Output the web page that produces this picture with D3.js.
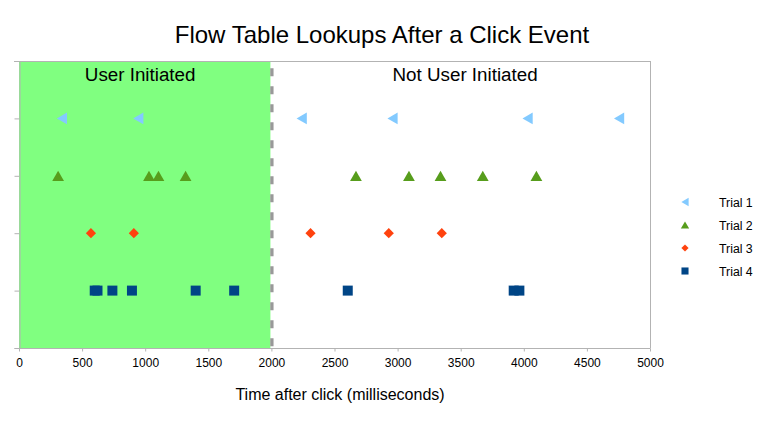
<!DOCTYPE html>
<html>
<head>
<meta charset="utf-8">
<script src="https://cdn.jsdelivr.net/npm/d3@7"></script>
<style>
  html, body { margin: 0; padding: 0; background: #fff; }
  svg { display: block; font-family: "Liberation Sans", Arial, sans-serif; }
</style>
</head>
<body>
<svg id="chart" width="763" height="423"></svg>
<script>
// ---- data ----
const title = "Flow Table Lookups After a Click Event";
const xAxisTitle = "Time after click (milliseconds)";
const xTicks = [0, 500, 1000, 1500, 2000, 2500, 3000, 3500, 4000, 4500, 5000];
const yTicks = [0, 1, 2, 3, 4, 5];
const seriesNames = ["Trial 1", "Trial 2", "Trial 3", "Trial 4"];
const seriesLevels = [4, 3, 2, 1];
const trial1 = [340, 945, 2240, 2960, 4030, 4755];
const trial2 = [310, 1030, 1105, 1320, 2670, 3090, 3340, 3675, 4100];
const trial3 = [570, 910, 2310, 2930, 3350];
const trial4 = [600, 622, 740, 895, 1400, 1705, 2605, 3920, 3965];
const regionSplit = 2000;
const regionLabels = ["User Initiated", "Not User Initiated"];
const regionLabelX = [960, 3535];

const seriesData = [trial1, trial2, trial3, trial4];
const colors = ["#83caff", "#579d1c", "#ff420e", "#004586"];

const svg = d3.select("#chart");
const m = { left: 19, right: 113, top: 61, bottom: 75 };
const W = 763, H = 423;
const x = d3.scaleLinear().domain([0, 5000]).range([m.left, W - m.right]);
const y = d3.scaleLinear().domain([0, 5]).range([H - m.bottom, m.top]);

// shaded region
svg.append("rect")
  .attr("x", x(0)).attr("y", y(5))
  .attr("width", x(regionSplit) - x(0) - 1)
  .attr("height", y(0) - y(5))
  .attr("fill", "#80ff80");

// frame (right)
const frameColor = "#b3b3b3";
svg.append("line").attr("x1", x(5000) + 0.5).attr("x2", x(5000) + 0.5)
  .attr("y1", y(5)).attr("y2", y(0)).attr("stroke", frameColor);

// y axis
const yAxis = d3.axisLeft(y).tickValues(yTicks).tickSize(5).tickFormat("");
const yg = svg.append("g").attr("transform", `translate(${x(0) + 0.5},0)`).call(yAxis);
yg.select(".domain").attr("stroke", frameColor);
yg.selectAll(".tick line").attr("stroke", frameColor);
// top border
svg.append("line").attr("x1", x(0) - 5).attr("x2", x(5000) + 0.5)
  .attr("y1", y(5) + 0.5).attr("y2", y(5) + 0.5).attr("stroke", frameColor);

// dashed divider
svg.append("line")
  .attr("x1", x(regionSplit) + 0.5).attr("x2", x(regionSplit) + 0.5)
  .attr("y1", y(5)).attr("y2", y(0))
  .attr("stroke", "#999999").attr("stroke-width", 3.3)
  .attr("stroke-dasharray", "8,10").attr("stroke-dashoffset", 10.7);

// x axis
const xAxis = d3.axisBottom(x).tickValues(xTicks).tickSize(3).tickPadding(7).tickFormat(d3.format("d"));
const xg = svg.append("g").attr("transform", `translate(0,${y(0) + 0.5})`).call(xAxis);
xg.select(".domain").attr("stroke", frameColor).attr("d", `M${x(0)},0H${x(5000) + 0.5}`);
xg.selectAll(".tick line").attr("stroke", frameColor);
xg.selectAll(".tick text").attr("font-size", 12).attr("fill", "#000")
  .attr("font-family", "Liberation Sans, Arial, sans-serif");

// title
svg.append("text").attr("x", 382).attr("y", 43).attr("text-anchor", "middle")
  .attr("font-size", 24).attr("fill", "#000").text(title);
// x axis title
svg.append("text").attr("x", 340).attr("y", 400).attr("text-anchor", "middle")
  .attr("font-size", 16).attr("fill", "#000").text(xAxisTitle);

// region labels
regionLabels.forEach((t, i) => {
  svg.append("text").attr("x", x(regionLabelX[i])).attr("y", 81)
    .attr("text-anchor", "middle").attr("font-size", 18.8).attr("fill", "#000").text(t);
});

// markers
const triSize = 60;
const triShift = Math.sqrt(triSize / (3 * Math.sqrt(3))) / 2; // centre bbox instead of centroid
function markerPath(i, scale) {
  if (i === 0 || i === 1) return d3.symbol().type(d3.symbolTriangle).size(triSize * scale)();
  if (i === 2) return d3.symbol().type(d3.symbolSquare).size(52 * scale)();
  return d3.symbol().type(d3.symbolSquare).size(100 * scale)();
}
function markerXform(i, scale) {
  if (i === 0) return `rotate(-90) translate(0,${triShift * Math.sqrt(scale)})`;
  if (i === 1) return `translate(0,${triShift * Math.sqrt(scale)})`;
  if (i === 2) return "rotate(45)";
  return "";
}
seriesData.forEach((vals, i) => {
  svg.append("g").selectAll("path").data(vals).join("path")
    .attr("d", markerPath(i, 1))
    .attr("transform", d => `translate(${x(d)},${y(seriesLevels[i])}) ${markerXform(i, 1)}`)
    .attr("fill", colors[i]);
});

// legend
const legY = [202, 225, 248, 271];
seriesNames.forEach((n, i) => {
  svg.append("path").attr("d", markerPath(i, 0.5))
    .attr("transform", `translate(685,${legY[i]}) ${markerXform(i, 0.5)}`)
    .attr("fill", colors[i]);
  svg.append("text").attr("x", 719).attr("y", legY[i] + 4.5)
    .attr("font-size", 12.3).attr("fill", "#000").text(n);
});
</script>
</body>
</html>
